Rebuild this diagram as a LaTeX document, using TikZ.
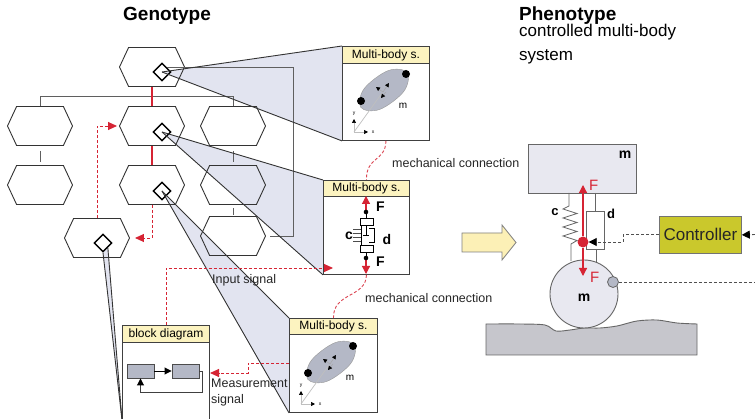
\documentclass[tikz,border=0pt]{standalone}
\usepackage{fontspec}
\setmainfont{Liberation Sans}
\usetikzlibrary{shapes.geometric,shapes.symbols,arrows.meta,calc}
\pgfdeclarelayer{background}
\pgfsetlayers{background,main}

\definecolor{sigred}{RGB}{214,36,52}
\definecolor{hdrcol}{RGB}{252,243,192}
\definecolor{shadecol}{RGB}{226,228,240}
\definecolor{treegray}{RGB}{95,95,95}
\definecolor{bodygray}{RGB}{180,184,198}
\definecolor{masscol}{RGB}{232,232,240}
\definecolor{ctlcol}{RGB}{202,200,44}
\definecolor{groundcol}{RGB}{198,198,204}
\definecolor{arrowyel}{RGB}{252,240,182}
\definecolor{dashgray}{RGB}{80,80,80}

\tikzset{
  hexnode/.style={shape=signal, signal to=east and west, signal pointer angle=130,
    draw=black!80, line width=0.9pt, minimum width=65pt, minimum height=39pt, inner sep=0pt},
  gene/.style={shape=diamond, draw=black, line width=1.4pt, minimum size=18pt, inner sep=0pt},
  tree/.style={draw=treegray, line width=0.9pt},
  treered/.style={draw=sigred, line width=2.2pt},
  proj/.style={draw=black!80, line width=0.9pt},
  projfill/.style={fill=shadecol},
  mbox/.style={draw=black!75, line width=0.9pt, fill=white, anchor=north west, inner sep=0pt},
  hdr/.style={draw=black!75, line width=0.9pt, fill=hdrcol, anchor=north west, inner sep=0pt,
    font=\fontsize{12}{14}\selectfont},
  sig/.style={draw=sigred, dashed, dash pattern=on 3pt off 2pt, line width=0.9pt,
    -{Triangle[length=9pt,width=8pt,color=sigred]}},
  mech/.style={draw=sigred!85, dash pattern=on 3pt off 2pt, line width=0.9pt},
  lab/.style={font=\fontsize{12.5}{16}\selectfont, inner sep=0pt, text=black!85},
  redarr/.style={draw=sigred, line width=1.2pt, -{Triangle[length=8pt,width=8pt,color=sigred]}},
  ctlsig/.style={draw=dashgray, dash pattern=on 3pt off 2pt, line width=0.9pt,
    -{Triangle[length=8pt,width=8pt,color=black]}},
  smallarr/.style={-{Triangle[length=4pt,width=4pt,color=black]}},
  bdblock/.style={draw=black!70, line width=0.9pt, fill=bodygray, minimum width=27pt,
    minimum height=14pt, inner sep=0pt},
  sym/.style={font=\fontsize{14}{16}\selectfont\bfseries, inner sep=0pt},
}

% rigid body with its reference frame, drawn relative to the box corner
\newcommand\mbcontent[1]{%
  \fill[bodygray, draw=black!40, line width=0.4pt] plot[smooth cycle, tension=0.6]
    coordinates {(18.8,61.4) (37.8,63.4) (61.8,45.4) (65.2,26.6) (46.2,24.6) (22.2,42.6)};
  \draw[black!25, line width=0.7pt] (12,86) -- (40,47);
  \draw[black!25, line width=0.7pt, smallarr] (12,86) -- (12,73);
  \draw[black!25, line width=0.7pt, smallarr] (12,86) -- (26,86);
  \node[font=\fontsize{5}{6}\selectfont, inner sep=0pt] (#1y) at (12,68) {y};
  \node[font=\fontsize{5}{6}\selectfont, inner sep=0pt] (#1x) at (31,86) {x};
  \draw[black!35, line width=0.5pt, smallarr] (41,46) -- (34,41);
  \draw[black!35, line width=0.5pt, smallarr] (41,46) -- (47,37);
  \draw[black!35, line width=0.5pt, smallarr] (44,46) -- (39,52);
  \fill[black] (19,55) circle[radius=4pt];
  \fill[black] (64,28) circle[radius=4pt];
  \node[font=\fontsize{10}{12}\selectfont, inner sep=0pt] (#1m) at (61,60) {m};
}

\begin{document}
\begin{tikzpicture}[x=1pt,y=-1pt]
\useasboundingbox (0,0) rectangle (755,419);

% ---------- titles ----------
\node[font=\fontsize{19}{22}\selectfont\bfseries, anchor=base, inner sep=0pt] (geno) at (167,21) {Genotype};
\node[font=\fontsize{19}{22}\selectfont\bfseries, anchor=base west, inner sep=0pt] (pheno) at (519,21) {Phenotype};
\node[font=\fontsize{17}{20}\selectfont, anchor=base west, inner sep=0pt] (pheno1) at (519,37) {controlled multi-body};
\node[font=\fontsize{17}{20}\selectfont, anchor=base west, inner sep=0pt] (pheno2) at (519,61) {system};

% ---------- genotype tree ----------
\node[hexnode] (ht)  at (152,67) {};
\node[hexnode] (h20) at (40,126) {};
\node[hexnode] (h21) at (152,126) {};
\node[hexnode] (h22) at (233,126) {};
\node[hexnode] (h30) at (40,185) {};
\node[hexnode] (h31) at (152,185) {};
\node[hexnode] (h32) at (233,185) {};
\node[hexnode] (h41) at (97,238) {};
\node[hexnode] (h42) at (233,236) {};

\node[gene] (dt)  at (162,72) {};
\node[gene] (d21) at (162,132) {};
\node[gene] (d31) at (162,191) {};
\node[gene] (d41) at (103,243) {};

\draw[tree] (h20.north) -- ++(0,-10) -| (h22.north);
\draw[treered] (ht) -- (h21);
\draw[treered] (h21) -- (h31);
\draw[tree, shorten <=5pt, shorten >=3pt] (h20) -- (h30);
\draw[tree, shorten <=5pt, shorten >=3pt] (h22) -- (h32);
\draw[tree, shorten <=3.5pt, shorten >=1.5pt] (h32) -- (h42);
\draw[tree, shorten >=4pt] (dt.north east) -- ++(126.5,0) |- (h42.east);

% ---------- model boxes ----------
\node[mbox, minimum width=87pt, minimum height=94pt] (mb1) at (342,46) {};
\node[hdr, minimum width=87pt, minimum height=17pt] (mb1h) at (mb1.north west) {Multi-body s.};
\node[mbox, minimum width=86pt, minimum height=94pt] (mb2) at (323,180) {};
\node[hdr, minimum width=86pt, minimum height=16pt] (mb2h) at (mb2.north west) {Multi-body s.};
\node[mbox, minimum width=88pt, minimum height=94pt] (mb3) at (289,318) {};
\node[hdr, minimum width=88pt, minimum height=16pt] (mb3h) at (mb3.north west) {Multi-body s.};
\node[mbox, minimum width=87pt, minimum height=94pt] (bd) at (122,325) {};
\node[hdr, minimum width=87pt, minimum height=17pt] (bdh) at (bd.north west) {block diagram};

\begin{scope}[shift={(342,46)}] \mbcontent{bodyA} \end{scope}
\begin{scope}[shift={(289,318)}] \mbcontent{bodyB} \end{scope}

% spring-damper element
\draw[redarr] (366,212) -- (366,196);
\draw[redarr] (366,258) -- (366,274);
\draw[black, line width=1pt] (366,212) -- (366,219) (366,253) -- (366,258);
\fill[black] (366,212) circle[radius=2.3pt] (366,258) circle[radius=2.3pt];
\draw[black, line width=1pt] (360,219) rectangle (373,226);
\draw[black, line width=1pt] (360,246) rectangle (373,253);
\draw[black, line width=1pt] (361,226) -- (361,246);
\draw[black, line width=1pt] (369,229) -- (374,229) -- (374,243) -- (369,243);
\draw[black, line width=1pt] (366,226) -- (366,236) (363,236) -- (369,236);
\draw[black!70, line width=0.6pt] (353,229) -- (361,229) (353,233) -- (361,233)
  (353,237) -- (361,237) (353,241) -- (361,241);
\node[sym, anchor=west] (Fa) at (376,207) {F};
\node[sym, anchor=west] (Fb) at (376,262) {F};
\node[sym] (ca) at (349,236) {c};
\node[sym] (da) at (387,239) {d};

% block diagram content
\node[bdblock] (bd1) at (140.5,371) {};
\node[bdblock] (bd2) at (185.5,371) {};
\draw[black, line width=0.9pt, -{Triangle[length=7pt,width=7pt]}] (bd1) -- (bd2);
\draw[black!75, line width=0.9pt, -{Triangle[length=7pt,width=7pt,color=black]}] (bd2.east) -| ++(3,21) -| (bd1.south);

% ---------- projections ----------
\begin{pgfonlayer}{background}
  \fill[white] (0,0) rectangle (755,419);
  \fill[projfill] (dt.center) -- (mb1.north west) -- (mb1.south west) -- cycle;
  \fill[projfill] (d21.center) -- (mb2.north west) -- (mb2.south west) -- cycle;
  \fill[projfill] (d31.center) -- (mb3.north west) -- (mb3.south west) -- cycle;
  \fill[projfill] (d41.south) -- (bd.south west) -- (d41.south east) -- cycle;
\end{pgfonlayer}
\draw[proj] (dt.center) -- (mb1.north west);
\draw[proj] (dt.center) -- (mb1.south west);
\draw[proj] (d21.center) -- (mb2.north west);
\draw[proj] (d21.center) -- (mb2.south west);
\draw[proj] (d31.center) -- (mb3.north west);
\draw[proj] (d31.center) -- (mb3.south west);
\draw[proj] (d41.south) -- (bd.south west);
\draw[proj] (d41.south east) -- (bd.south west);

% ---------- signals ----------
\draw[sig, shorten >=2pt] (h41.north) |- (h21.west);
\draw[sig, shorten >=5pt] (h31.south) |- (h41.east);
\coordinate (inend) at (333,268);
\draw[sig] (bd.north) |- (inend);
\node[lab, anchor=west] (inlab) at (212,280) {Input signal};
\coordinate (msstart) at (289,363);
\coordinate (msend) at (210,373);
\draw[sig] (msstart) -- ++(-41,0) |- (msend);
\node[lab, anchor=north west, align=left, font=\fontsize{12.5}{16}\selectfont] (mslab) at (211,379) {Measurement\\signal};

\draw[mech] (mb1.south) .. controls (385.5,162) and (366,156) .. (mb2.north);
\node[lab, anchor=west] (mc1) at (392,163) {mechanical connection};
\draw[mech] (mb2.south) .. controls (366,298) and (333,292) .. (mb3.north);
\node[lab, anchor=west] (mc2) at (365,298) {mechanical connection};

% ---------- phenotype ----------
\draw[draw=black!50, line width=0.8pt, fill=arrowyel] (462,233) -- (502,233) -- (502,225)
  -- (516,242.5) -- (502,260) -- (502,252) -- (462,252) -- cycle;

\fill[groundcol, draw=black!60, line width=0.9pt] plot[smooth] coordinates
  {(486,324) (520,324) (545,325) (556,331) (570,330) (584,328) (600,328) (617,326)
   (637,321) (657,320) (677,323) (697,324)} -- (697,355) -- (486,355) -- cycle;

\node[draw=black!60, line width=0.9pt, fill=masscol, minimum width=108pt, minimum height=49pt,
  anchor=north west, inner sep=0pt] (mass) at (528,144) {};
\node[sym] (mlab) at (625,155) {m};
\node[circle, draw=black!60, line width=0.9pt, fill=masscol, minimum size=68pt, inner sep=0pt] (wheel) at (584,294) {};
\node[sym] (wlab) at (584,298) {m};

% spring
\draw[black!60, line width=0.8pt] (569,193) -- (569,206) -- (563,209) -- (577,213.5) -- (563,218)
  -- (577,222.5) -- (563,227) -- (577,231.5) -- (563,236) -- (577,240.5) -- (571,244) -- (571,261);
\node[sym, font=\fontsize{13}{15}\selectfont\bfseries] (cb) at (555,212) {c};
% damper
\draw[black!60, line width=0.8pt] (595,193) -- (595,211) (586,211) rectangle (604,249) (596,249) -- (596,262);
\node[sym, font=\fontsize{13}{15}\selectfont\bfseries] (db) at (611,214) {d};

\node[circle, fill=sigred, minimum size=11pt, inner sep=0pt] (act) at (583,242) {};
\coordinate (fup) at (583,185);
\coordinate (fdn) at (583,276);
\draw[redarr] (act) -- (fup);
\draw[redarr] (act) -- (fdn);
\node[font=\fontsize{15}{17}\selectfont, text=sigred, anchor=west, inner sep=0pt] (Fc) at (589,185) {F};
\node[font=\fontsize{15}{17}\selectfont, text=sigred, anchor=west, inner sep=0pt] (Fd) at (590,277) {F};

\node[draw=black!55, line width=0.8pt, fill=ctlcol, minimum width=82pt, minimum height=37pt,
  anchor=north west, inner sep=0pt, font=\fontsize{17}{20}\selectfont, text=black!85] (ctl) at (659,216) {Controller};
\draw[ctlsig] (ctl.west) -- ++(-36,0) |- (act.east);
\coordinate (ctlin) at (755,234.5);
\draw[ctlsig] (ctlin) -- (ctl.east);

\node[circle, draw=black!60, line width=0.8pt, fill=bodygray, minimum size=11pt, inner sep=0pt] (sensor) at (613,282) {};
\coordinate (sensout) at (755,282);
\draw[draw=dashgray, dash pattern=on 3pt off 2pt, line width=0.9pt] (sensor) -- (sensout);

\end{tikzpicture}
\end{document}
